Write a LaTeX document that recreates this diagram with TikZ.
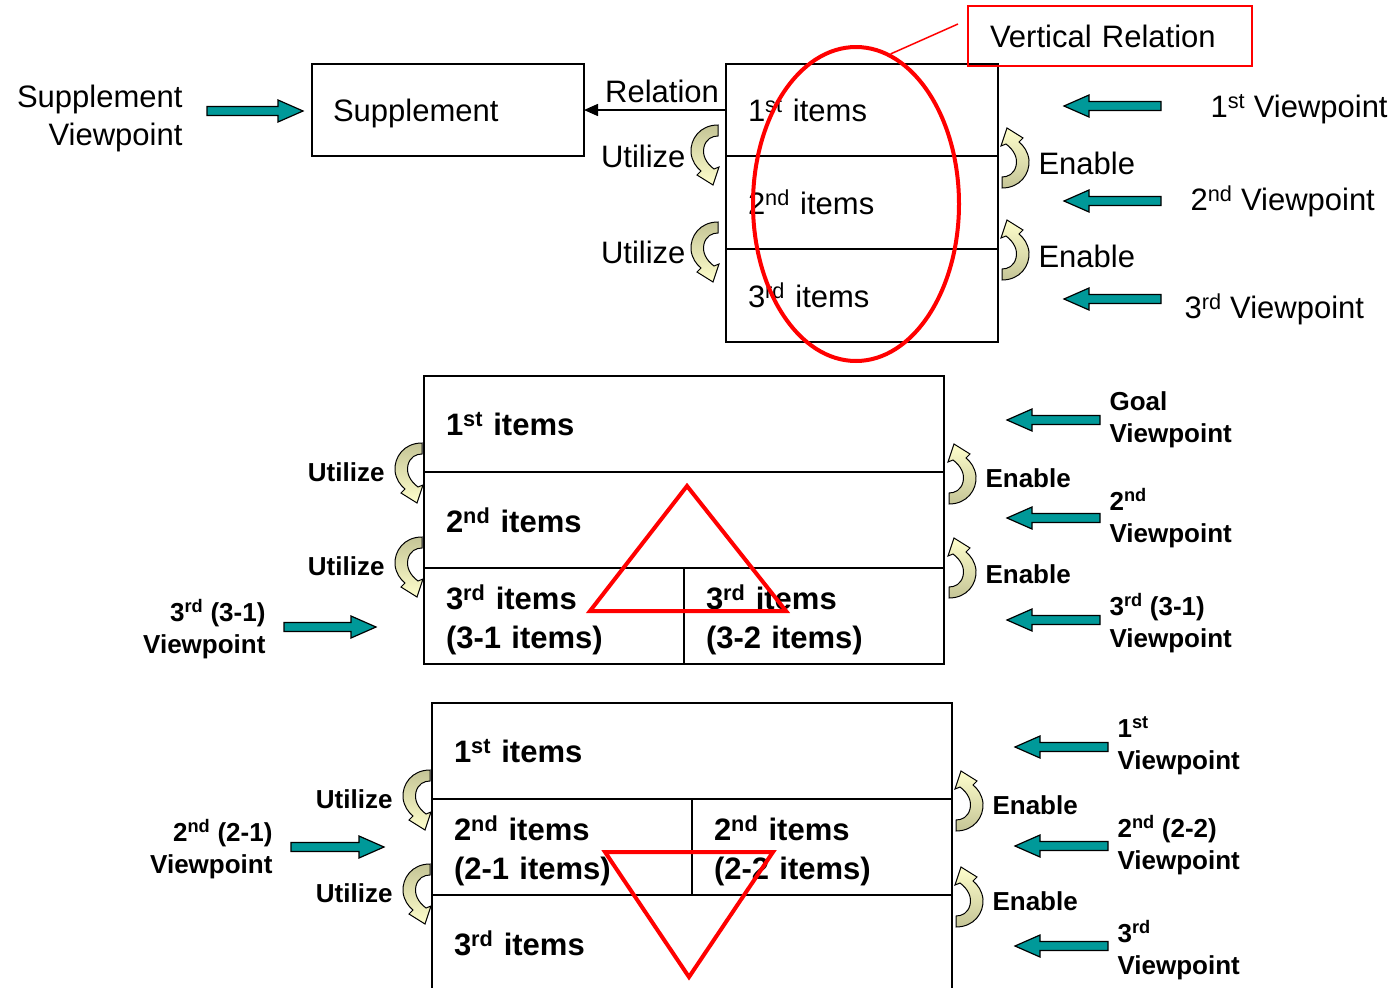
\documentclass[tikz,border=0pt]{standalone}
\usepackage{fontspec}
\setmainfont{Liberation Sans}
\usetikzlibrary{positioning,shapes.geometric,arrows.meta}
\definecolor{arrteal}{RGB}{0,153,153}
\definecolor{curlkhaki}{RGB}{196,196,150}
\definecolor{curlcream}{RGB}{255,255,204}
\newcommand\lowstrut{\rule{0pt}{32pt}}
\tikzset{
  bigrm/.style={font=\fontsize{31}{38}\selectfont},
  bigbf/.style={font=\fontsize{31}{39}\selectfont\bfseries},
  smallbf/.style={font=\fontsize{26}{32}\selectfont\bfseries},
  cell/.style={draw, line width=1.5pt, outer sep=0pt, inner xsep=22pt, text width=#1, align=left},
  redmark/.style={draw=red, line width=4pt},
  pics/viewarrow/.style={code={
    \draw[fill=arrteal, line width=1.2pt] (0,-4.5) -- ({#1-25},-4.5) -- ({#1-25},-11) -- (#1,0)
      -- ({#1-25},11) -- ({#1-25},4.5) -- (0,4.5) -- cycle;}},
  pics/utilcurl/.style={code={
    \draw[line width=1pt, top color=curlkhaki, bottom color=curlcream]
      (26,0) .. controls (8,0) and (-2,14) .. (-1,28) .. controls (0,36) and (4,42) .. (9,46)
      -- (5,50) -- (21,60) -- (27,42) -- (22,44)
      .. controls (14,38) and (10,30) .. (12,22) .. controls (14,14) and (20,11) .. (26,11) -- cycle;}},
  pics/enablecurl/.style={code={
    \draw[line width=1pt, top color=curlcream, bottom color=curlkhaki]
      (0,60) .. controls (18,60) and (28,46) .. (27,32) .. controls (26,24) and (22,18) .. (17,14)
      -- (21,10) -- (5,0) -- (-1,18) -- (4,16)
      .. controls (12,22) and (16,30) .. (14,38) .. controls (12,46) and (6,49) .. (0,49) -- cycle;}}
}
\begin{document}
\begin{tikzpicture}[x=1pt,y=-1pt]
\useasboundingbox (0,0) rectangle (1398,988);
\clip (0,0) rectangle (1398,988);
 \begin{scope}
\node[bigrm, anchor=east, align=right] (suppview) at (186,118) {Supplement\\Viewpoint};
\pic at (207,111) {viewarrow=96};
\node[cell=230pt, bigrm, inner xsep=21pt, text depth=0pt, minimum height=92pt] (supp) at (448,110) {Supplement};
\node[cell=228pt, bigrm, minimum height=92pt] (c1) at (862,110) {1\textsuperscript{st} items};
\node[cell=228pt, bigrm, minimum height=93pt, below=0pt of c1] (c2) {2\textsuperscript{nd} items};
\node[cell=228pt, bigrm, minimum height=93pt, below=0pt of c2] (c3) {3\textsuperscript{rd} items};
\draw[line width=1.5pt, -{Triangle[length=14pt,width=12pt]}] (c1.west) -- node[bigrm, pos=0.45, above, inner sep=6pt] (rel) {Relation} (supp.east);
\node[bigrm, anchor=east] (util1) at (689,156) {Utilize};
\pic at (692,125) {utilcurl};
\node[bigrm, anchor=east] (util2) at (689,252) {Utilize};
\pic at (692,222) {utilcurl};
\pic at (1002,128) {enablecurl};
\node[bigrm, anchor=west] (enab1) at (1035,163) {Enable};
\pic at (1002,220) {enablecurl};
\node[bigrm, anchor=west] (enab2) at (1035,256) {Enable};
\pic[rotate=180] at (1161,106) {viewarrow=97};
\pic[rotate=180] at (1161,201) {viewarrow=97};
\pic[rotate=180] at (1161,299) {viewarrow=97};
\node[bigrm, anchor=west] (view1) at (1207,109) {1\textsuperscript{st} Viewpoint};
\node[bigrm, anchor=west] (view2) at (1187,201) {2\textsuperscript{nd} Viewpoint};
\node[bigrm, anchor=west] (view3) at (1181,309) {3\textsuperscript{rd} Viewpoint};
\node[ellipse, redmark, minimum width=206pt, minimum height=314pt] (ell) at (856,204) {};
\coordinate (vtip) at (958,24);
\draw[red, line width=1.5pt] (ell.77) -- (vtip);
\node[draw=red, line width=1.5pt, bigrm, text width=240pt, inner xsep=22pt, align=left, minimum height=60pt] (vrel) at (1110,36) {Vertical Relation};
 \end{scope}
 \begin{scope}
\node[cell=476pt, bigbf, minimum height=96pt] (m1) at (684,424) {1\textsuperscript{st} items};
\node[cell=476pt, bigbf, minimum height=96pt, below=0pt of m1] (m2) {2\textsuperscript{nd} items};
\node[cell=216pt, bigbf, minimum height=96pt, below right=0pt and 0pt of m2.south west] (m3a) {\lowstrut 3\textsuperscript{rd} items\\(3-1 items)};
\node[cell=216pt, bigbf, minimum height=96pt, right=0pt of m3a] (m3b) {\lowstrut 3\textsuperscript{rd} items\\(3-2 items)};
\draw[redmark] (687,486) -- (590,611) -- (786,611) -- cycle;
\node[smallbf, anchor=east] (util3) at (388,472) {Utilize};
\pic at (396,443) {utilcurl};
\node[smallbf, anchor=east] (util4) at (388,566) {Utilize};
\pic at (396,537) {utilcurl};
\node[smallbf, anchor=east, align=right] (view4) at (269,629) {3\textsuperscript{rd} (3-1)\\Viewpoint};
\pic at (284,627) {viewarrow=92};
\pic at (949,444) {enablecurl};
\node[smallbf, anchor=west] (enab3) at (982,478) {Enable};
\pic at (949,538) {enablecurl};
\node[smallbf, anchor=west] (enab4) at (982,574) {Enable};
\pic[rotate=180] at (1100,420) {viewarrow=93};
\pic[rotate=180] at (1100,518) {viewarrow=93};
\pic[rotate=180] at (1100,620) {viewarrow=93};
\node[smallbf, anchor=west, align=left] (view5) at (1106,420) {Goal\\Viewpoint};
\node[smallbf, anchor=west, align=left] (view6) at (1106,518) {2\textsuperscript{nd}\\Viewpoint};
\node[smallbf, anchor=west, align=left] (view7) at (1106,623) {3\textsuperscript{rd} (3-1)\\Viewpoint};
 \end{scope}
 \begin{scope}
\node[cell=476pt, bigbf, minimum height=96pt] (b1) at (692,751) {1\textsuperscript{st} items};
\node[cell=216pt, bigbf, minimum height=96pt, below right=0pt and 0pt of b1.south west] (b2a) {\lowstrut 2\textsuperscript{nd} items\\(2-1 items)};
\node[cell=216pt, bigbf, minimum height=96pt, right=0pt of b2a] (b2b) {\lowstrut 2\textsuperscript{nd} items\\(2-2 items)};
\node[cell=476pt, bigbf, minimum height=96pt, below right=0pt and 0pt of b2a.south west] (b3) {3\textsuperscript{rd} items};
\draw[redmark] (605,852) -- (773,852) -- (689,977) -- cycle;
\node[smallbf, anchor=east] (util5) at (396,799) {Utilize};
\pic at (404,770) {utilcurl};
\node[smallbf, anchor=east] (util6) at (396,893) {Utilize};
\pic at (404,864) {utilcurl};
\node[smallbf, anchor=east, align=right] (view8) at (276,849) {2\textsuperscript{nd} (2-1)\\Viewpoint};
\pic at (291,847) {viewarrow=93};
\pic at (956,771) {enablecurl};
\node[smallbf, anchor=west] (enab5) at (989,805) {Enable};
\pic at (956,867) {enablecurl};
\node[smallbf, anchor=west] (enab6) at (989,901) {Enable};
\pic[rotate=180] at (1108,747) {viewarrow=93};
\pic[rotate=180] at (1108,846) {viewarrow=93};
\pic[rotate=180] at (1108,946) {viewarrow=93};
\node[smallbf, anchor=west, align=left] (view9) at (1114,746) {1\textsuperscript{st}\\Viewpoint};
\node[smallbf, anchor=west, align=left] (view10) at (1114,845) {2\textsuperscript{nd} (2-2)\\Viewpoint};
\node[smallbf, anchor=west, align=left] (view11) at (1114,950) {3\textsuperscript{rd}\\Viewpoint};
 \end{scope}
\end{tikzpicture}
\end{document}
